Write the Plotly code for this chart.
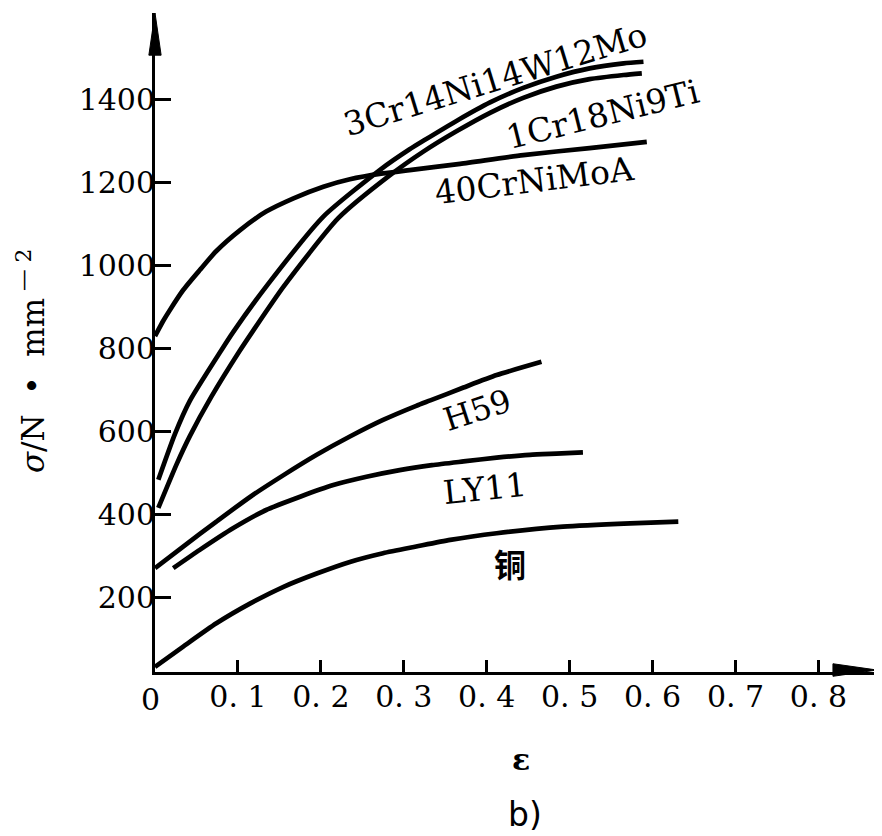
import plotly.graph_objects as go

# ---- data (strain ε, stress σ in N/mm^2) ----
strain_40CrNiMoA = [0.0, 0.010, 0.018, 0.034, 0.054, 0.074, 0.103, 0.134, 0.167, 0.203,
                    0.235, 0.275, 0.307, 0.368, 0.444, 0.524, 0.593]
stress_40CrNiMoA = [831, 868, 894, 942, 990, 1036, 1087, 1131, 1163, 1191,
                    1209, 1223, 1231, 1246, 1267, 1284, 1299]

strain_3Cr14Ni14W12Mo = [0.004, 0.024, 0.042, 0.080, 0.094, 0.137, 0.203, 0.271, 0.307, 0.324,
                         0.364, 0.404, 0.444, 0.484, 0.524, 0.565, 0.589]
stress_3Cr14Ni14W12Mo = [485, 595, 675, 797, 840, 958, 1119, 1231, 1281, 1302,
                         1350, 1394, 1429, 1456, 1476, 1488, 1492]

strain_1Cr18Ni9Ti = [0.004, 0.026, 0.042, 0.068, 0.102, 0.118, 0.155, 0.221, 0.283, 0.324,
                     0.364, 0.404, 0.444, 0.484, 0.524, 0.565, 0.587]
stress_1Cr18Ni9Ti = [417, 522, 590, 685, 795, 843, 950, 1115, 1218, 1276,
                     1325, 1369, 1405, 1432, 1450, 1460, 1464]

strain_H59 = [0.0, 0.034, 0.074, 0.115, 0.155, 0.195, 0.235, 0.275, 0.315, 0.332,
              0.372, 0.412, 0.466]
stress_H59 = [272, 324, 384, 444, 496, 545, 589, 629, 663, 676, 707, 737, 769]

strain_LY11 = [0.022, 0.054, 0.094, 0.134, 0.175, 0.215, 0.255, 0.295, 0.334, 0.372,
               0.412, 0.452, 0.484, 0.516]
stress_LY11 = [272, 316, 368, 412, 444, 472, 492, 508, 520, 529, 538, 545, 548, 551]

strain_copper = [0.0, 0.034, 0.074, 0.115, 0.155, 0.195, 0.235, 0.275, 0.315, 0.356,
                 0.412, 0.492, 0.573, 0.631]
stress_copper = [34, 83, 139, 187, 227, 259, 287, 308, 324, 340, 356, 372, 380, 384]

x_tick_vals = [0.1, 0.2, 0.3, 0.4, 0.5, 0.6, 0.7, 0.8]
x_tick_text = ["0. 1", "0. 2", "0. 3", "0. 4", "0. 5", "0. 6", "0. 7", "0. 8"]
y_tick_vals = [200, 400, 600, 800, 1000, 1200, 1400]
y_tick_text = ["200", "400", "600", "800", "1000", "1200", "1400"]

curve_names = ["40CrNiMoA", "3Cr14Ni14W12Mo", "1Cr18Ni9Ti", "H59", "LY11", "铜"]

series = [
    (curve_names[0], strain_40CrNiMoA, stress_40CrNiMoA),
    (curve_names[1], strain_3Cr14Ni14W12Mo, stress_3Cr14Ni14W12Mo),
    (curve_names[2], strain_1Cr18Ni9Ti, stress_1Cr18Ni9Ti),
    (curve_names[3], strain_H59, stress_H59),
    (curve_names[4], strain_LY11, stress_LY11),
    (curve_names[5], strain_copper, stress_copper),
]

SERIF = "DejaVu Serif, serif"

fig = go.Figure()
for name, xs, ys in series:
    fig.add_trace(go.Scatter(
        x=xs, y=ys, mode="lines", name=name, showlegend=False,
        line=dict(color="black", width=4.7, shape="spline", smoothing=0.6),
        hoverinfo="x+y+name",
    ))

# curve labels (text, x, y, angle, font family, size)
labels = [
    (curve_names[1], 0.410, 1448, -17, SERIF, 33),
    (curve_names[2], 0.539, 1366, -14, SERIF, 33),
    (curve_names[0], 0.458, 1207, -7, SERIF, 33),
    (curve_names[3], 0.389, 653, -18, SERIF, 32),
    (curve_names[4], 0.398, 465, -6, SERIF, 33),
    ("<b>" + curve_names[5] + "</b>", 0.428, 284, 0, "Noto Sans CJK SC", 32),
]
annotations = []
for text, x, y, ang, fam, size in labels:
    annotations.append(dict(
        text=text, x=x, y=y, xref="x", yref="y", showarrow=False,
        textangle=ang, xanchor="center", yanchor="middle",
        font=dict(family=fam, size=size, color="black"),
    ))

NB = "\u00a0"
# origin label, axis titles and caption
annotations += [
    dict(text="0", x=-0.0069, y=-0.041, xref="paper", yref="paper", showarrow=False,
         xanchor="center", yanchor="middle", font=dict(family=SERIF, size=30, color="black")),
    dict(text="<i>σ</i>/N" + NB * 2 + "•" + NB * 2 + "mm<sup>" + NB + "—" + NB + "2</sup>",
         x=-0.172, y=0.473, xref="paper", yref="paper", showarrow=False,
         textangle=-90, xanchor="center", yanchor="middle",
         font=dict(family=SERIF, size=31, color="black")),
    dict(text="<b>ε</b>", x=0.507, y=-0.1335, xref="paper", yref="paper", showarrow=False,
         xanchor="center", yanchor="middle", font=dict(family=SERIF, size=30, color="black")),
    dict(text="b)", x=0.512, y=-0.2155, xref="paper", yref="paper", showarrow=False,
         xanchor="center", yanchor="middle", font=dict(family="DejaVu Sans", size=33, color="black")),
]

# arrow heads at the ends of the axes
shapes = [
    dict(type="path", xref="paper", yref="paper",
         path="M 0,1.0 L -0.0085,0.936 L 0.0085,0.936 Z",
         fillcolor="black", line=dict(color="black", width=1)),
    dict(type="path", xref="paper", yref="paper",
         path="M 1.0,0.003 L 0.939,0.0125 L 0.939,-0.0065 Z",
         fillcolor="black", line=dict(color="black", width=1)),
]

# the page body adds an 8 px margin, so the figure is 8 px smaller and shifted
fig.update_layout(
    width=874, height=828,
    margin=dict(l=147, r=5, t=5, b=164),
    paper_bgcolor="white", plot_bgcolor="white",
    annotations=annotations, shapes=shapes,
    xaxis=dict(
        range=[0, 0.8706], tickvals=x_tick_vals, ticktext=x_tick_text,
        ticks="inside", ticklen=12, tickwidth=2.5, tickcolor="black",
        showline=True, linewidth=3, linecolor="black",
        showgrid=False, zeroline=False, ticklabelstandoff=-4,
        tickfont=dict(family=SERIF, size=30, color="black"),
    ),
    yaxis=dict(
        range=[21.7, 1609.4], tickvals=y_tick_vals, ticktext=y_tick_text,
        ticks="inside", ticklen=16, tickwidth=2.5, tickcolor="black",
        showline=True, linewidth=3, linecolor="black",
        showgrid=False, zeroline=False, ticklabelstandoff=-9,
        tickfont=dict(family=SERIF, size=30, color="black"),
    ),
)

fig.write_html("out.html")
